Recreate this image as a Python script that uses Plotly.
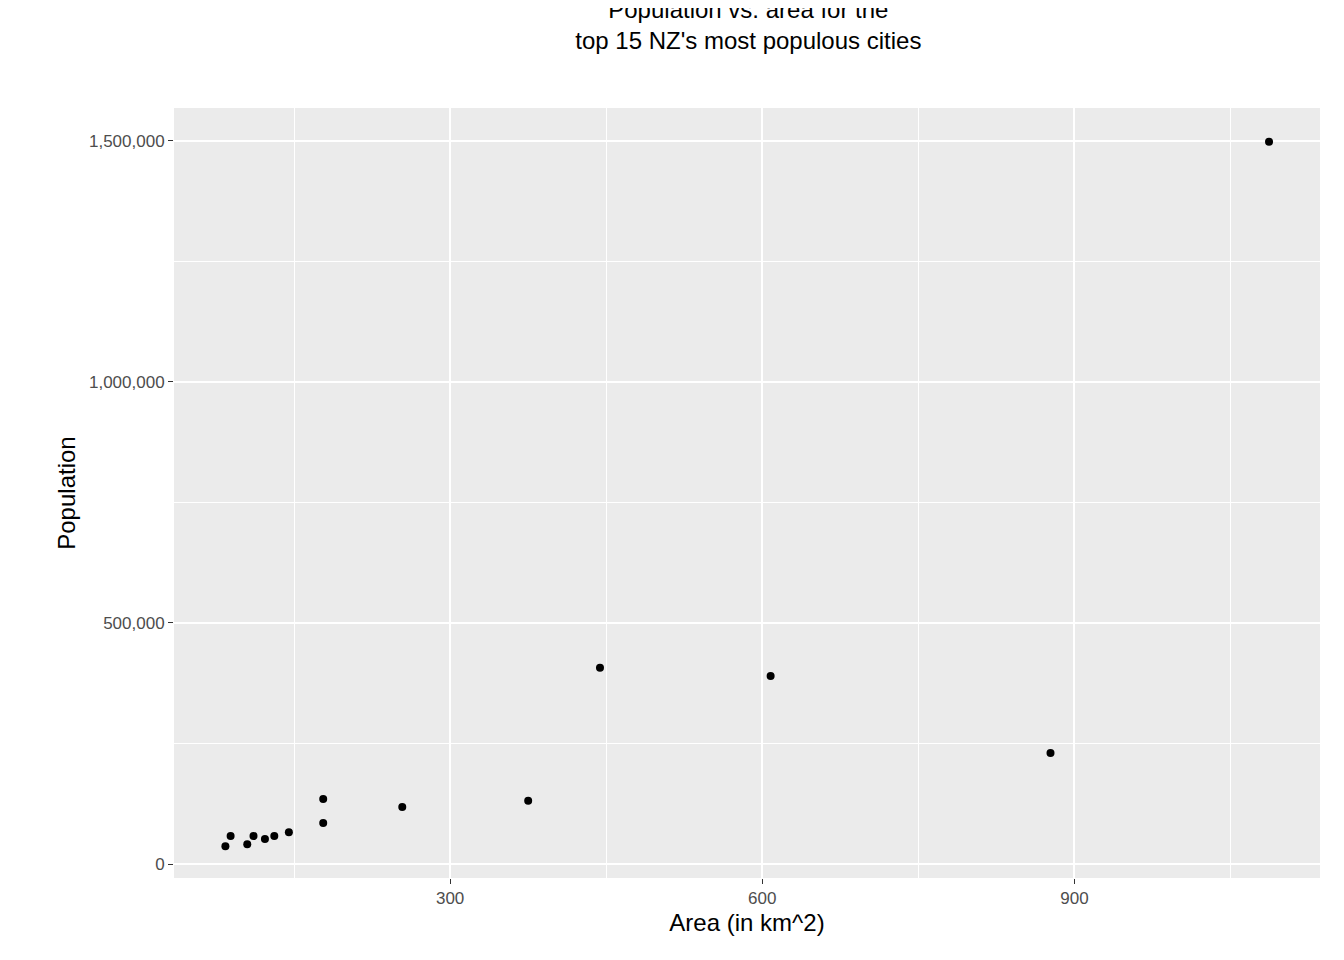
import plotly.graph_objs as go

# area (km^2) and population
area = [1087, 877, 608, 444, 375, 254, 178, 178, 145, 131, 122, 111, 105, 89, 84]
population = [1498000, 230000, 390000, 407000, 131000, 118000, 135000, 85000,
              66000, 58000, 52000, 58000, 41000, 58000, 37000]

fig = go.Figure(go.Scatter(x=area, y=population, mode="markers",
                           marker=dict(color="black", size=8)))

fig.update_layout(
    autosize=True,
    paper_bgcolor="white", plot_bgcolor="#EBEBEB",
    font=dict(family="Liberation Sans, Arial", color="black"),
    title=dict(text="Population vs. area for the<br>top 15 NZ's most populous cities",
               x=0.5575, xanchor="center", yref="container", y=0.99, yanchor="top",
               font=dict(size=24)),
    margin=dict(l=166, r=16, t=100, b=90),
    showlegend=False,
)
fig.update_xaxes(range=[34.6, 1136], tickvals=[300, 600, 900],
                 gridcolor="white", gridwidth=1.8, zeroline=False,
                 minor=dict(tickvals=[150, 450, 750, 1050], gridcolor="white", gridwidth=0.8, showgrid=True),
                 ticks="outside", ticklen=5, tickcolor="#333333",
                 tickfont=dict(size=17, color="#4D4D4D"),
                 title=dict(text="Area (in km^2)", font=dict(size=24), standoff=6))
fig.update_yaxes(range=[-29000, 1568000], tickvals=[0, 500000, 1000000, 1500000],
                 tickformat=",", gridcolor="white", gridwidth=1.8, zeroline=False,
                 minor=dict(tickvals=[250000, 750000, 1250000], gridcolor="white", gridwidth=0.8, showgrid=True),
                 ticks="outside", ticklen=5, tickcolor="#333333",
                 tickfont=dict(size=17, color="#4D4D4D"),
                 title=dict(text="Population", font=dict(size=24), standoff=6))

fig.write_html("out.html", default_width="100%", default_height="100vh")
